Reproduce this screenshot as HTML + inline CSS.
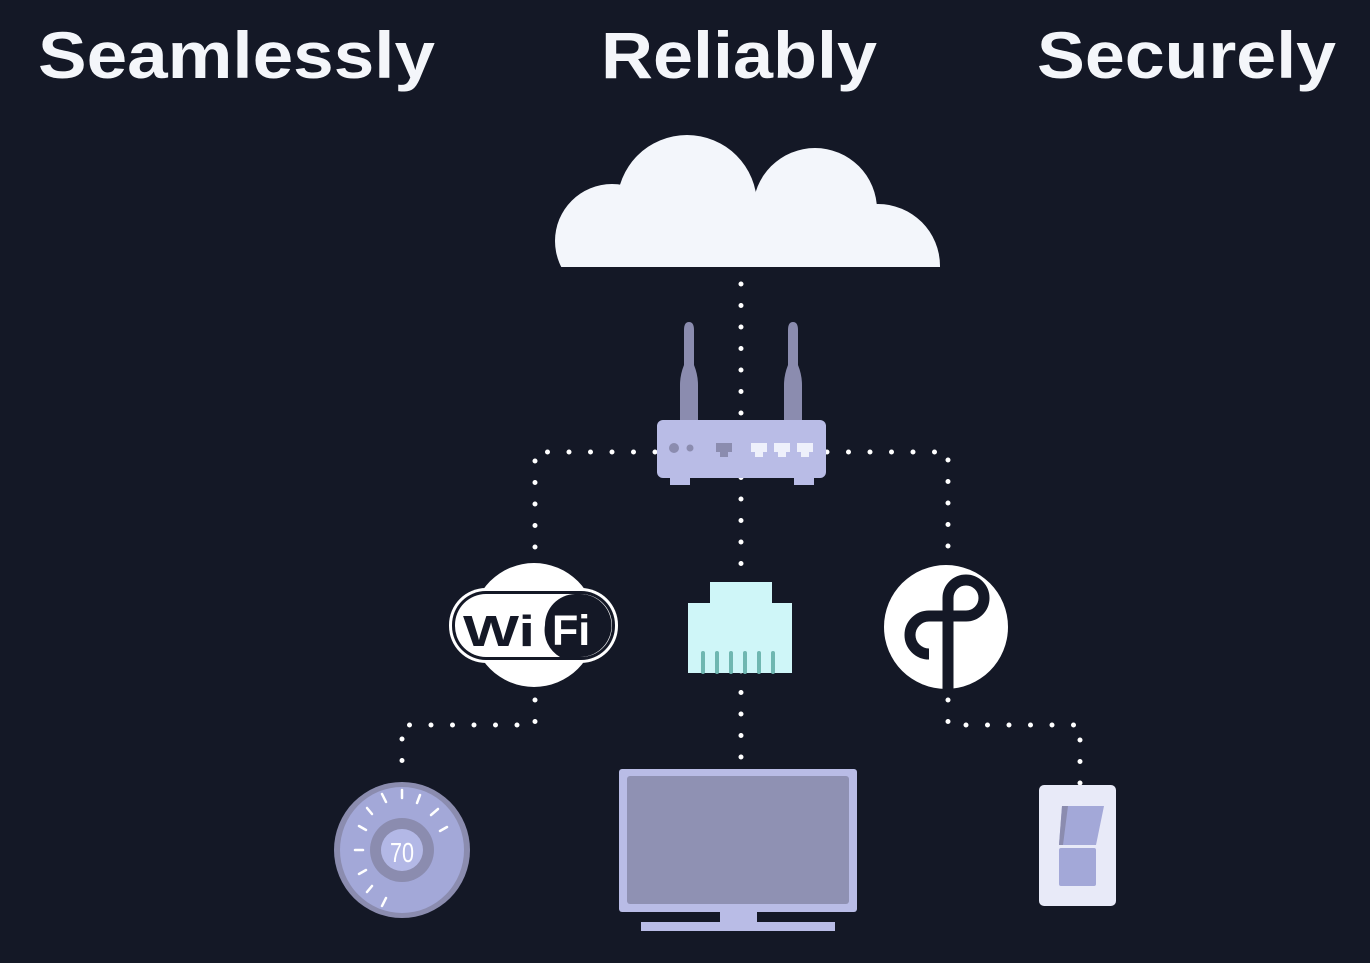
<!DOCTYPE html>
<html><head><style>
html,body{margin:0;padding:0;background:#141826;}
svg{display:block;}
</style></head><body>
<svg width="1370" height="963" viewBox="0 0 1370 963" xmlns="http://www.w3.org/2000/svg">
<defs><clipPath id="cc"><rect x="540" y="100" width="420" height="167"/></clipPath></defs>
<rect width="1370" height="963" fill="#141826"/>
<g font-family="Liberation Sans, sans-serif" font-weight="bold" font-size="66" fill="#f4f6fa">
<text x="38" y="78" textLength="397" lengthAdjust="spacingAndGlyphs">Seamlessly</text>
<text x="601" y="78" textLength="276" lengthAdjust="spacingAndGlyphs">Reliably</text>
<text x="1037" y="78" textLength="299" lengthAdjust="spacingAndGlyphs">Securely</text>
</g>
<g fill="#f3f6fb" clip-path="url(#cc)">
<circle cx="687" cy="205" r="70"/>
<circle cx="815" cy="210" r="62"/>
<circle cx="612" cy="241" r="57"/>
<circle cx="878" cy="266" r="62"/>
<rect x="612" y="205" width="270" height="62"/>
</g>
<g stroke="#ffffff" stroke-width="5" stroke-linecap="round" stroke-dasharray="0 21.5" fill="none">
<path d="M741 284 V766"/>
<path d="M741 452 H535 V550"/>
<path d="M741 452 H948 V550"/>
<path d="M535 700 V725 H402 V770"/>
<path d="M948 700 V725 H1080 V785"/>
</g>
<g fill="#8b8caf">
<path d="M684 330 Q684 322 689 322 Q694 322 694 330 L694 365 Q698 375 698 385 L698 420 L680 420 L680 385 Q680 375 684 365 Z"/>
<path d="M788 330 Q788 322 793 322 Q798 322 798 330 L798 365 Q802 375 802 385 L802 420 L784 420 L784 385 Q784 375 788 365 Z"/>
</g>
<rect x="670" y="470" width="20" height="15" fill="#b9bce6"/>
<rect x="794" y="470" width="20" height="15" fill="#b9bce6"/>
<rect x="657" y="420" width="169" height="58" rx="6" fill="#b9bce6"/>
<circle cx="674" cy="448" r="5" fill="#8b8caf"/>
<circle cx="690" cy="448" r="3.5" fill="#8b8caf"/>
<path d="M716 443 H732 V452 H728 V457 H720 V452 H716 Z" fill="#8b8caf"/>
<g fill="#eef0fb">
<path d="M751 443 H767 V452 H763 V457 H755 V452 H751 Z"/>
<path d="M774 443 H790 V452 H786 V457 H778 V452 H774 Z"/>
<path d="M797 443 H813 V452 H809 V457 H801 V452 H797 Z"/>
</g>
<circle cx="534" cy="625" r="62" fill="#ffffff"/>
<rect x="449" y="588" width="169" height="75" rx="37" fill="#ffffff"/>
<rect x="452" y="591" width="163" height="69" rx="34" fill="#141826"/>
<rect x="455" y="594" width="157" height="63" rx="31" fill="#ffffff"/>
<path d="M575 594 H580 A31 31 0 0 1 580 657 H560 A31 31 0 0 1 545 625 A31 31 0 0 1 575 594 Z" fill="#141826"/>
<text x="463" y="646" font-family="Liberation Sans, sans-serif" font-weight="bold" font-size="44" fill="#141826" textLength="72" lengthAdjust="spacingAndGlyphs">Wi</text>
<text x="552" y="645" font-family="Liberation Sans, sans-serif" font-weight="bold" font-size="43" fill="#ffffff">Fi</text>
<path d="M710 582 H772 V603 H792 V673 H688 V603 H710 Z" fill="#cff6f8"/>
<g stroke="#6fb7b1" stroke-width="4" stroke-linecap="round">
<path d="M703 653 V672 M717 653 V672 M731 653 V672 M745 653 V672 M759 653 V672 M773 653 V672"/>
</g>
<circle cx="946" cy="627" r="62" fill="#ffffff"/>
<path d="M948 690 V598 A18 18 0 1 1 966 616 H947" stroke="#141826" stroke-width="11" fill="none"/>
<path d="M948 616 H929 A19 19 0 0 0 929 654" stroke="#141826" stroke-width="11" fill="none"/>
<ellipse cx="402" cy="850" rx="68" ry="68" fill="#8b8caf"/>
<ellipse cx="402" cy="850" rx="62" ry="63" fill="#a3a8d8"/>
<circle cx="402" cy="850" r="32" fill="#8b8caf"/>
<circle cx="402" cy="850" r="21" fill="#b3b8e6"/>
<text x="402" y="862" text-anchor="middle" font-family="Liberation Sans, sans-serif" font-size="28" fill="#ffffff" textLength="24" lengthAdjust="spacingAndGlyphs">70</text>
<g stroke="#ffffff" stroke-width="2.5" stroke-linecap="round">
<path d="M355 850 H363"/>
<path d="M359 826 L366 830"/>
<path d="M367 808 L372 814"/>
<path d="M382 794 L386 802"/>
<path d="M402 790 V798"/>
<path d="M420 795 L417 803"/>
<path d="M438 809 L431 815"/>
<path d="M447 827 L440 831"/>
<path d="M359 874 L366 870"/>
<path d="M367 892 L372 886"/>
<path d="M382 906 L386 898"/>
</g>
<rect x="619" y="769" width="238" height="143" rx="3" fill="#b9bce6"/>
<rect x="627" y="776" width="222" height="128" rx="3" fill="#8f91b3"/>
<rect x="720" y="910" width="37" height="13" fill="#b9bce6"/>
<rect x="641" y="922" width="194" height="9" fill="#b9bce6"/>
<rect x="1039" y="785" width="77" height="121" rx="5" fill="#e8eaf8"/>
<path d="M1062 806 H1104 L1096 845 H1059 Z" fill="#a3a8d8"/>
<path d="M1062 806 H1068 L1063 845 H1059 Z" fill="#8b8caf"/>
<rect x="1059" y="848" width="37" height="38" rx="2" fill="#a3a8d8"/>
</svg>
</body></html>
